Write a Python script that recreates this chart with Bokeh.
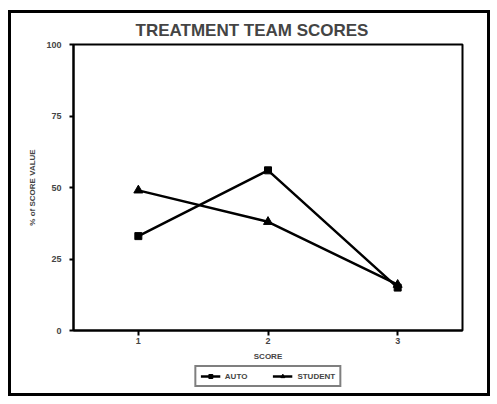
from bokeh.plotting import figure
from bokeh.layouts import column
from bokeh.models import Range1d, FixedTicker, Legend, LegendItem
from bokeh.embed import file_html
from bokeh.resources import INLINE

scores = [1, 2, 3]
score_labels = {1: "1", 2: "2", 3: "3"}
auto = [33, 56, 15]
student = [49, 38, 16]
y_ticks = [0, 25, 50, 75, 100]
series_names = ["AUTO", "STUDENT"]

FONT = "Liberation Sans"

p = figure(width=476, height=350, output_backend="svg", toolbar_location=None,
           x_range=Range1d(0.5, 3.5), y_range=Range1d(0, 100),
           min_border_left=62, min_border_right=25, min_border_top=30, min_border_bottom=8)

p.title.text = "TREATMENT TEAM SCORES"
p.title.text_font = FONT
p.title.text_font_style = "bold"
p.title.text_font_size = "17px"
p.title.align = "left"
p.title.offset = 62

p.xgrid.visible = False
p.ygrid.visible = False
p.outline_line_color = "black"
p.outline_line_width = 2

for ax in (p.xaxis, p.yaxis):
    ax.axis_line_width = 2
    ax.major_tick_line_width = 2
    ax.minor_tick_line_color = None
    ax.major_label_text_font = FONT
    ax.major_label_text_font_style = "bold"
    ax.major_label_text_font_size = "9px"
    ax.axis_label_text_font = FONT
    ax.axis_label_text_font_style = "bold"
    ax.axis_label_text_font_size = "8px"

p.xaxis.ticker = FixedTicker(ticks=scores)
p.xaxis.major_label_overrides = score_labels
p.xaxis.major_tick_in = 0
p.xaxis.major_tick_out = 5
p.xaxis.major_label_standoff = 2
p.xaxis.axis_label = "SCORE"
p.xaxis.axis_label_standoff = 5

p.yaxis.ticker = FixedTicker(ticks=y_ticks)
p.yaxis.major_tick_in = 0
p.yaxis.major_tick_out = 4
p.yaxis.major_label_standoff = 8
p.yaxis.axis_label = "% of SCORE VALUE"
p.yaxis.axis_label_standoff = 6

p.line(scores, auto, line_color="black", line_width=2.5)
p.scatter(scores, auto, marker="square", size=7, color="black")
p.line(scores, student, line_color="black", line_width=2.5)
p.scatter(scores, student, marker="triangle", size=9, color="black")

# legend strip below the chart (its renderers sit outside the strip's visible range)
lp = figure(width=476, height=30, output_backend="svg", toolbar_location=None,
            x_range=Range1d(0.5, 3.5), y_range=Range1d(-20, -10),
            min_border=0, outline_line_color=None)
lp.axis.visible = False
lp.grid.visible = False
la = lp.line(scores, auto, line_color="black", line_width=2.5)
lam = lp.scatter(scores, auto, marker="square", size=7, color="black")
ls = lp.line(scores, student, line_color="black", line_width=2.5)
lsm = lp.scatter(scores, student, marker="triangle", size=9, color="black")

legend = Legend(items=[LegendItem(label=series_names[0], renderers=[la, lam]),
                       LegendItem(label=series_names[1], renderers=[ls, lsm])],
                orientation="horizontal", location="top_center",
                label_text_font=FONT, label_text_font_style="bold",
                label_text_font_size="8px", glyph_width=20, glyph_height=10,
                label_height=10, spacing=25, padding=4, margin=2,
                border_line_color="black", border_line_width=2)
lp.add_layout(legend, "center")

layout = column(p, lp, spacing=0)
layout.styles = {"border": "3px solid black"}
layout.margin = (10, 0, 0, 8)

open("out.html", "w").write(file_html(layout, INLINE))
